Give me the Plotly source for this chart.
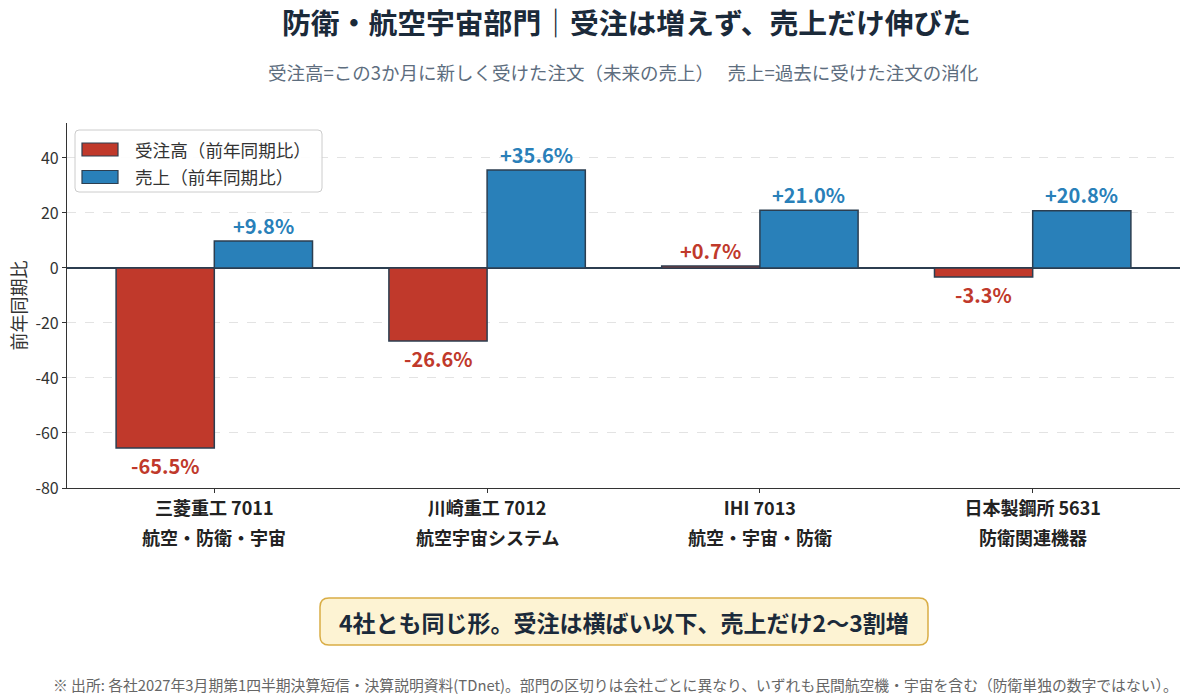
import plotly.graph_objects as go

# ---- data ----
companies = ["三菱重工 7011", "川崎重工 7012", "IHI 7013", "日本製鋼所 5631"]
segments = ["航空・防衛・宇宙", "航空宇宙システム", "航空・宇宙・防衛", "防衛関連機器"]
orders_yoy = [-65.5, -26.6, 0.7, -3.3]
sales_yoy = [9.8, 35.6, 21.0, 20.8]
series_names = ["受注高（前年同期比）", "売上（前年同期比）"]
y_ticks = [-80, -60, -40, -20, 0, 20, 40]

title = "防衛・航空宇宙部門｜受注は増えず、売上だけ伸びた"
subtitle = "受注高=この3か月に新しく受けた注文（未来の売上）\u3000 売上=過去に受けた注文の消化"
callout = "4社とも同じ形。受注は横ばい以下、売上だけ2〜3割増"
footnote = ("※ 出所: 各社2027年3月期第1四半期決算短信・決算説明資料(TDnet)。部門の区切りは会社ごとに異なり、"
            "いずれも民間航空機・宇宙を含む（防衛単独の数字ではない）。")

RED = "#c0392b"
BLUE = "#2980b9"
EDGE = "#2c3e50"
FONT = "Noto Sans CJK JP"

# plot area in pixels (for placing decorations)
L, R, T, B = 67, 1180, 123, 488
def px(x):
    return (x - L) / (R - L)
def py(y):
    return (B - y) / (B - T)

fig = go.Figure()
colors = [RED, BLUE]
for name, vals, col in zip(series_names, (orders_yoy, sales_yoy), colors):
    fig.add_trace(go.Bar(x=companies, y=vals, name=name, showlegend=False,
                         marker=dict(color=col, line=dict(color=EDGE, width=1.5))))

annotations = []
for series, color, shift in ((orders_yoy, RED, -49), (sales_yoy, BLUE, 49)):
    for c, v in zip(companies, series):
        annotations.append(dict(
            x=c, y=v, xref="x", yref="y", xshift=shift,
            yshift=16 if v >= 0 else -17, yanchor="middle",
            text=f"<b>{v:+.1f}%</b>", showarrow=False,
            font=dict(size=20, color=color, family=FONT)))

# second line of category labels
for c, s in zip(companies, segments):
    annotations.append(dict(x=c, y=0, xref="x", yref="paper", yshift=-49, yanchor="middle",
                            text=f"<b>{s}</b>", showarrow=False,
                            font=dict(size=18, color="#222222", family=FONT)))

# titles & notes
annotations += [
    dict(x=px(626), y=py(22), xref="paper", yref="paper", text=f"<b>{title}</b>",
         showarrow=False, font=dict(size=28.8, color="#1b2a3a", family=FONT), yanchor="middle"),
    dict(x=px(623), y=py(72), xref="paper", yref="paper", text=subtitle,
         showarrow=False, font=dict(size=18.5, color="#5d6d7e", family=FONT), yanchor="middle"),
    dict(x=px(624), y=py(621.5), xref="paper", yref="paper", text=f"<b>{callout}</b>",
         showarrow=False, font=dict(size=23, color="#1b2a3a", family=FONT), yanchor="middle"),
    dict(x=px(615), y=py(684), xref="paper", yref="paper", text=footnote,
         showarrow=False, font=dict(size=14.8, color="#666666", family=FONT), yanchor="middle"),
]

def rounded(hw, hh, r):
    return (f"M {-hw + r},{-hh} L {hw - r},{-hh} Q {hw},{-hh} {hw},{-hh + r} "
            f"L {hw},{hh - r} Q {hw},{hh} {hw - r},{hh} L {-hw + r},{hh} "
            f"Q {-hw},{hh} {-hw},{hh - r} L {-hw},{-hh + r} Q {-hw},{-hh} {-hw + r},{-hh} Z")

shapes = [
    # callout box
    dict(type="path", xref="paper", yref="paper", xsizemode="pixel", ysizemode="pixel",
         xanchor=px(624), yanchor=py(621.5), path=rounded(304, 23.5, 9),
         fillcolor="#fdf3d3", line=dict(color="#d9ad45", width=1.5), layer="below"),
    # legend frame
    dict(type="path", xref="paper", yref="paper", xsizemode="pixel", ysizemode="pixel",
         xanchor=px(198.5), yanchor=py(161), path=rounded(123.5, 31, 4),
         fillcolor="rgba(255,255,255,0.9)", line=dict(color="#cccccc", width=1), layer="above"),
]
for i, (name, col) in enumerate(zip(series_names, colors)):
    yc = 149.5 + 27.5 * i
    shapes.append(dict(type="rect", xref="paper", yref="paper", xsizemode="pixel", ysizemode="pixel",
                       xanchor=px(100), yanchor=py(yc), x0=-18, x1=18, y0=-6.5, y1=6.5,
                       fillcolor=col, line=dict(color=EDGE, width=1.2), layer="above"))
    annotations.append(dict(x=px(133), y=py(yc), xref="paper", yref="paper", xanchor="left",
                            yanchor="middle", text=name, showarrow=False,
                            font=dict(size=17.6, color="#333333", family=FONT)))

fig.update_layout(
    width=1200, height=699,
    margin=dict(l=L, r=1200 - R, t=T, b=699 - B, autoexpand=False),
    paper_bgcolor="white", plot_bgcolor="white",
    barmode="group", bargap=0.28, bargroupgap=0,
    font=dict(family=FONT, color="#333333"),
    showlegend=False,
    annotations=annotations,
    shapes=shapes,
)

fig.update_xaxes(
    type="category", range=[-0.54, 3.54], automargin=False,
    tickvals=companies,
    ticktext=[f"<b>{c}</b>" for c in companies],
    tickfont=dict(size=18, color="#222222", family=FONT),
    showline=True, linecolor="#333333", linewidth=1.2,
    ticks="outside", ticklen=4, tickcolor="#333333",
    showgrid=False, zeroline=False,
)
fig.update_yaxes(
    range=[-80, 52.7], tickvals=y_ticks, ticktext=[str(t) for t in y_ticks], automargin=False,
    tickfont=dict(size=16, color="#333333", family=FONT),
    showline=True, linecolor="#333333", linewidth=1.2,
    ticks="outside", ticklen=4, tickcolor="#333333",
    showgrid=True, gridcolor="#e3e3e3", griddash="dash", gridwidth=0.8,
    zeroline=True, zerolinecolor=EDGE, zerolinewidth=1.5,
    title=dict(text="前年同期比", font=dict(size=18, color="#333333", family=FONT), standoff=4),
)

fig.write_html("out.html", config={"displayModeBar": False},
               post_script="document.body.style.margin='0px';document.body.style.padding='0px';")
